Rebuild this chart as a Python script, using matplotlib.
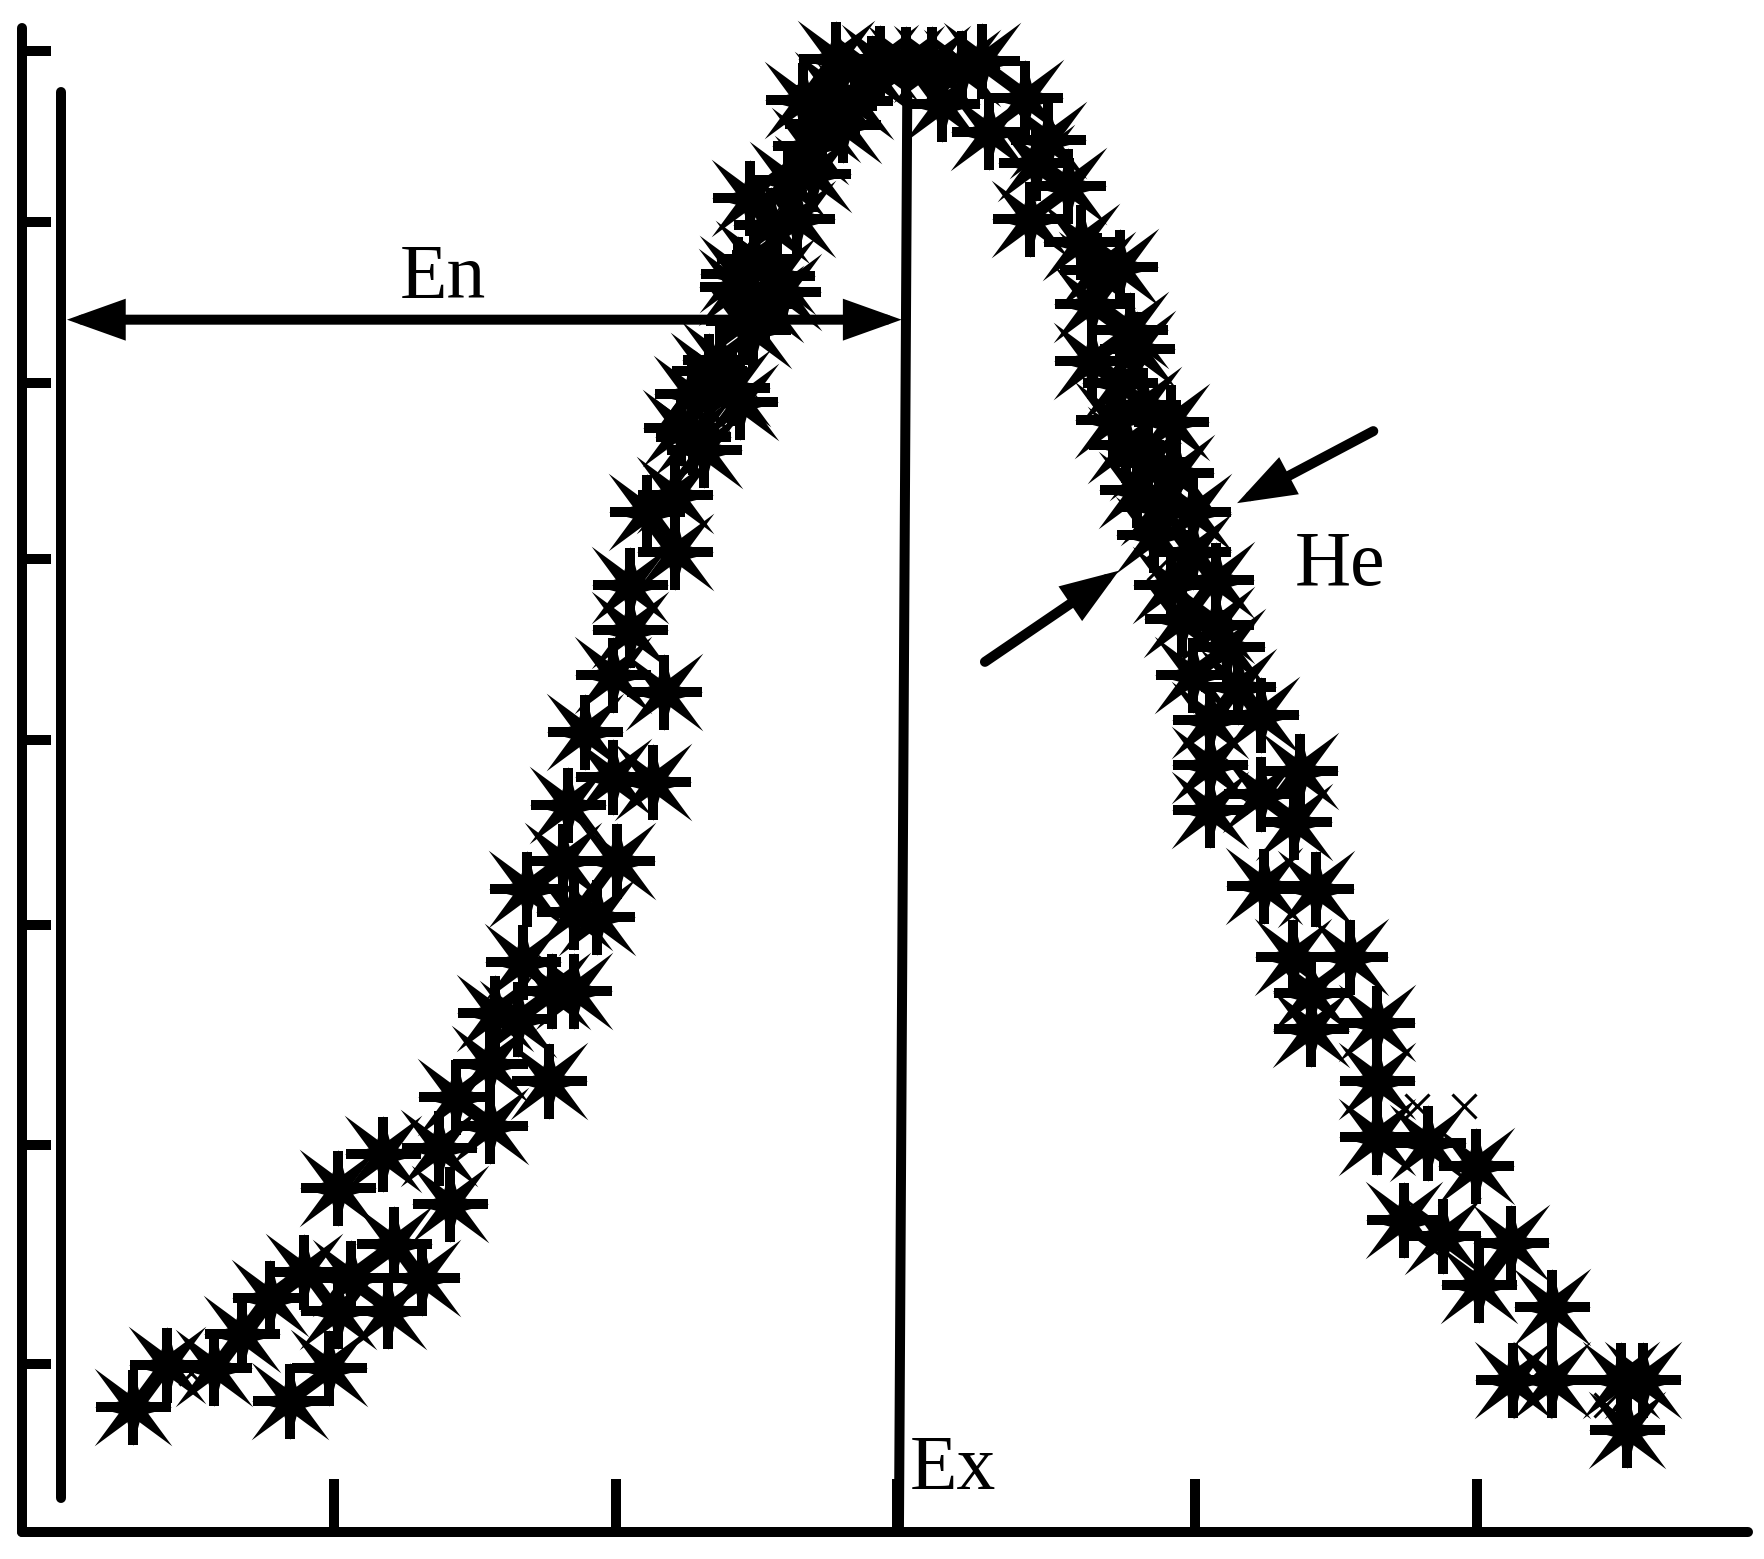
import matplotlib
matplotlib.use("Agg")
import matplotlib.pyplot as plt
import numpy as np
from matplotlib.path import Path

# cloud drops (x, certainty), axis units
drop_x = [118, 148, 190, 215, 240, 270, 258, 292, 300, 312, 345, 350, 375, 300, 340, 390,
          400, 405, 435, 435, 440, 460, 488, 465, 468, 490, 510, 500, 510, 530, 548, 505,
          520, 545, 580, 545, 560, 590, 560, 575, 600, 600, 605, 625, 615, 630, 650, 640,
          657, 616, 660, 655, 680, 669, 696, 656, 670, 690, 666, 708, 722, 685, 700, 713,
          720, 749, 730, 740, 743, 760, 775,
          782, 805, 828, 837, 855, 872, 879, 911, 931, 920, 949, 915,
          960, 975, 995, 970, 1004, 970, 1010, 995, 1015, 989, 1040, 1000, 1020, 1045, 1010,
          1030, 1060, 1025, 1060, 1080, 1040, 1050, 1080, 1090, 1060, 1100, 1075, 1120, 1075,
          1155, 1120, 1075, 1150, 1123, 1169, 1149, 1199, 1165, 1165, 1223, 1223, 1223, 1269,
          1311, 1247, 1282, 1342, 1314, 1379, 1344, 1379, 1440, 1460, 1445]
drop_y = [135, 172, 170, 200, 232, 255, 140, 170, 220, 250, 220, 280, 250, 330, 360, 365,
          315, 410, 385, 440, 485, 480, 425, 530, 595, 505, 505, 620, 575, 570, 620, 670,
          735, 695, 690, 785, 825, 770, 865, 930, 895, 945, 1005, 985, 1035, 1055, 1040, 1065,
          1028, 997, 1100, 1130, 1115, 1092, 1126, 1142, 1155, 1140, 1209, 1190, 1230, 1185, 1225, 1296,
          1255, 1274, 1275, 1305, 1333, 1295, 1320,
          1329, 1328, 1328, 1293, 1325, 1331, 1268, 1298, 1261, 1240, 1220, 1190,
          1170, 1145, 1148, 1115, 1092, 1064, 1075, 1045, 1025, 1012, 1010, 990, 975, 965, 950,
          935, 930, 910, 895, 870, 865, 835, 830, 810, 785, 775, 745, 750, 705,
          700, 680, 665, 655, 598, 595, 535, 535, 503, 471, 476, 425, 375, 370,
          349, 301, 287, 281, 243, 224, 159, 159, 159, 159, 115]

# small thin crosses
thin_x = [170, 1301, 1259, 1361, 1427, 855, 1030]
thin_y = [165, 402, 402, 161, 137, 1330, 880]

x_ticks = [297, 547, 797, 1062, 1312]
y_ticks = [1340, 1188, 1045, 888, 728, 563, 368, 173]

ex_line_x = [806, 798.6]
ex_line_y = [1300, 24]
en_bar_x = [54.2, 54.2]
en_bar_y = [1303, 54]

# spiky 8-point star, diagonal spikes longer
verts = []
for k in range(16):
    ang = np.deg2rad(90 + k * 22.5)
    if k % 2 == 0:
        r = 0.7 if (k // 2) % 2 == 0 else 1.0
    else:
        r = 0.29
    verts.append((r * np.cos(ang), r * np.sin(ang)))
verts.append(verts[0])
star = Path(verts, closed=True)

fig = plt.figure(figsize=(17.65, 15.59), dpi=100)
ax = fig.add_axes([0, 0, 1, 1])
ax.set_xlim(0, 1568)
ax.set_ylim(0, 1385)

for s in ["top", "right"]:
    ax.spines[s].set_visible(False)
ax.spines["left"].set_position(("data", 19.5))
ax.spines["left"].set_bounds(24, 1360)
ax.spines["bottom"].set_position(("data", 24))
ax.spines["bottom"].set_bounds(19.5, 1553)
for s in ["left", "bottom"]:
    ax.spines[s].set_linewidth(7.2)
    ax.spines[s].set_capstyle("round")

ax.set_xticks(x_ticks)
ax.set_yticks(y_ticks)
ax.set_xticklabels([])
ax.set_yticklabels([])
ax.tick_params(axis="x", direction="in", length=38, width=7.2)
ax.tick_params(axis="y", direction="in", length=21, width=7.2)

ax.plot(ex_line_x, ex_line_y, color="k", lw=7.2, solid_capstyle="butt")
ax.plot(en_bar_x, en_bar_y, color="k", lw=7.2, solid_capstyle="round")

ax.plot(drop_x, drop_y, ls="none", marker=star, ms=56, color="k", mew=0)
ax.plot(drop_x, drop_y, ls="none", marker="+", ms=54, mew=7.2, color="k")
ax.plot(thin_x, thin_y, ls="none", marker="x", ms=17, mew=2.2, color="k")

arrow_kw = dict(lw=7.2, color="k", shrinkA=0, shrinkB=0, mutation_scale=1,
                joinstyle="miter")
ax.annotate("", xy=(801, 1101), xytext=(59.5, 1101),
            arrowprops=dict(arrowstyle="<|-|>,head_length=28,head_width=10", **arrow_kw))
ax.annotate("", xy=(1099, 938), xytext=(1220, 1002),
            arrowprops=dict(arrowstyle="-|>,head_length=28,head_width=10",
                            capstyle="round", **arrow_kw))
ax.annotate("", xy=(994, 878), xytext=(875, 797),
            arrowprops=dict(arrowstyle="-|>,head_length=28,head_width=10",
                            capstyle="round", **arrow_kw))

font = dict(family="Liberation Serif", size=56, color="k")
ax.text(355, 1120, "En", ha="left", va="baseline", **font)
ax.text(1150, 865, "He", ha="left", va="baseline", **font)
ax.text(808, 62, "Ex", ha="left", va="baseline", **font)

fig.savefig("out.png", dpi=100, facecolor="white")
